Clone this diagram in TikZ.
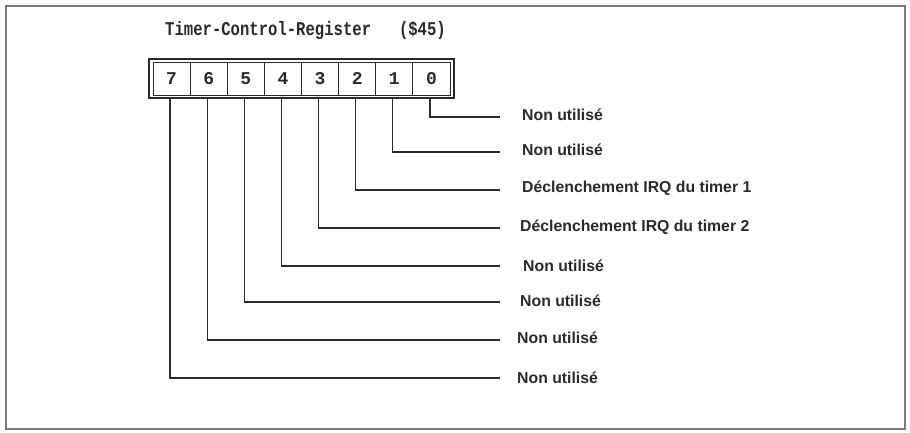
\documentclass[tikz,border=0pt]{standalone}
\usepackage{fontspec}
\setsansfont{Liberation Sans}
\newfontfamily\monof{Liberation Mono}
\definecolor{ink}{HTML}{2A2A2A}
\definecolor{framec}{HTML}{7A7A7A}
\tikzset{
  cell/.style={draw=ink, line width=1pt, minimum width=37.125pt, minimum height=33pt, inner sep=0pt,
    font=\monof\bfseries\fontsize{18}{18}\selectfont, text=ink},
  lbl/.style={anchor=west, inner sep=0pt, font=\sffamily\bfseries\fontsize{15.8}{16}\selectfont, text=ink},
  wire/.style={draw=ink, line width=1.2pt},
}
\begin{document}
\begin{tikzpicture}[x=1pt,y=-1pt]
\useasboundingbox (0,0) rectangle (910,432);
\fill[white] (0,0) rectangle (910,432);
\draw[framec, line width=1.8pt] (6,6) rectangle (905,429);
\node[anchor=west, inner sep=0pt, font=\monof\bfseries\fontsize{15.6}{16}\selectfont, text=ink] (title) at (165,30) {\scalebox{1}[1.25]{Timer-Control-Register\hspace{27.9pt}(\$45)}};
\draw[ink, line width=1.5pt] (149,59) rectangle (454,98);
\foreach \b in {0,...,7}{
  \node[cell] (c\b) at ({153+(7-\b+0.5)*37.125},78.5) {\b};
}
\coordinate (e0) at (500,117);
\coordinate (e1) at (500,152);
\coordinate (e2) at (500,190);
\coordinate (e3) at (500,228);
\coordinate (e4) at (500,266);
\coordinate (e5) at (500,302);
\coordinate (e6) at (500,340);
\coordinate (e7) at (500,378);
\node[lbl] (l0) at (522,115) {Non utilisé};
\node[lbl] (l1) at (522,150) {Non utilisé};
\node[lbl] (l2) at (522,188) {Déclenchement IRQ du timer 1};
\node[lbl] (l3) at (520,227) {Déclenchement IRQ du timer 2};
\node[lbl] (l4) at (523,266) {Non utilisé};
\node[lbl] (l5) at (520,301) {Non utilisé};
\node[lbl] (l6) at (517,338) {Non utilisé};
\node[lbl] (l7) at (517,378) {Non utilisé};
\foreach \b in {0,...,7}{
  \draw[wire] ([xshift=-1.5pt,yshift=-3pt]c\b.south) |- (e\b);
}
\end{tikzpicture}
\end{document}
